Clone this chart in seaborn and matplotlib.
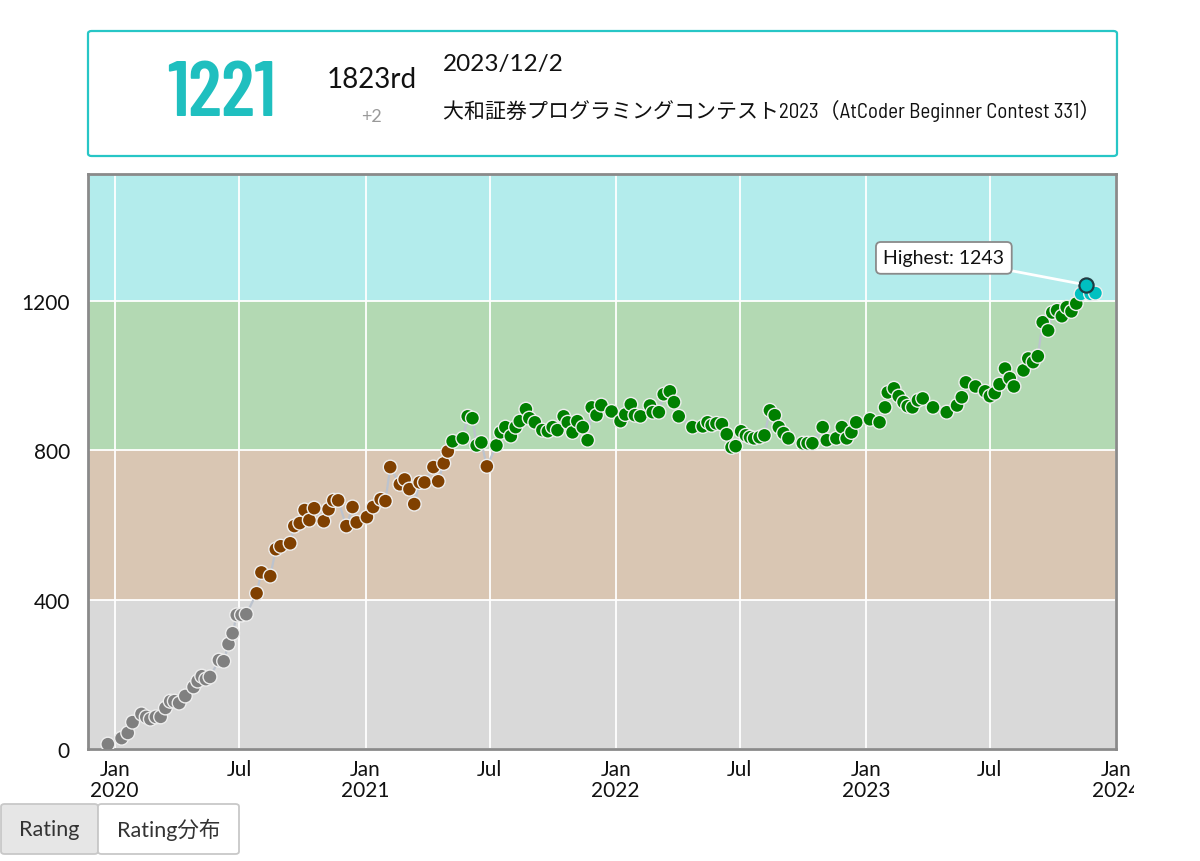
import numpy as np
import pandas as pd
import matplotlib
matplotlib.use('Agg')
import matplotlib.pyplot as plt
import matplotlib.dates as mdates
import seaborn as sns
from matplotlib.patches import FancyBboxPatch
from matplotlib.transforms import Bbox

# ---------------- data ----------------
dates = [
    '2019-12-22', '2020-01-11', '2020-01-20', '2020-01-27', '2020-02-09', '2020-02-16',
    '2020-02-22', '2020-03-01', '2020-03-08', '2020-03-15', '2020-03-22', '2020-03-28',
    '2020-04-04', '2020-04-13', '2020-04-25', '2020-05-01', '2020-05-07', '2020-05-13',
    '2020-05-19', '2020-06-01', '2020-06-08', '2020-06-15', '2020-06-21', '2020-06-27',
    '2020-07-04', '2020-07-11',
    '2020-07-26', '2020-08-02', '2020-08-15', '2020-08-23', '2020-08-30', '2020-09-13',
    '2020-09-19', '2020-09-27', '2020-10-04', '2020-10-11', '2020-10-18', '2020-11-01',
    '2020-11-08', '2020-11-15', '2020-11-22', '2020-12-04', '2020-12-13', '2020-12-19',
    '2021-01-03', '2021-01-12', '2021-01-23', '2021-01-30', '2021-02-06', '2021-02-20',
    '2021-02-27', '2021-03-06', '2021-03-13', '2021-03-21', '2021-03-28', '2021-04-10',
    '2021-04-17', '2021-04-25', '2021-05-01',
    '2021-05-08', '2021-05-23', '2021-05-30', '2021-06-06', '2021-06-12', '2021-06-19',
    '2021-06-27', '2021-07-11', '2021-07-17', '2021-07-24', '2021-08-01', '2021-08-08',
    '2021-08-14', '2021-08-23', '2021-08-28', '2021-09-05', '2021-09-16', '2021-09-24',
    '2021-10-01', '2021-10-08', '2021-10-17', '2021-10-23', '2021-10-30', '2021-11-06',
    '2021-11-14', '2021-11-21', '2021-11-27', '2021-12-04', '2021-12-11', '2021-12-26',
    '2022-01-08', '2022-01-15', '2022-01-23', '2022-01-29', '2022-02-06', '2022-02-20',
    '2022-02-24', '2022-03-05', '2022-03-12', '2022-03-21', '2022-03-27', '2022-04-03',
    '2022-04-23', '2022-05-08', '2022-05-15', '2022-05-21', '2022-05-28', '2022-06-05',
    '2022-06-12', '2022-06-19', '2022-06-25', '2022-07-03', '2022-07-10', '2022-07-16',
    '2022-07-22', '2022-07-30', '2022-08-06', '2022-08-14', '2022-08-21', '2022-08-27',
    '2022-09-03', '2022-09-10', '2022-10-01', '2022-10-08', '2022-10-15', '2022-10-30',
    '2022-11-05', '2022-11-19', '2022-11-27', '2022-12-04', '2022-12-11', '2022-12-18',
    '2023-01-07', '2023-01-21', '2023-01-29', '2023-02-02', '2023-02-11', '2023-02-18',
    '2023-02-25', '2023-03-03', '2023-03-10', '2023-03-18', '2023-03-25', '2023-04-09',
    '2023-04-29', '2023-05-14', '2023-05-21', '2023-05-27', '2023-06-10', '2023-06-24',
    '2023-07-01', '2023-07-08', '2023-07-15', '2023-07-23', '2023-07-30', '2023-08-05',
    '2023-08-19', '2023-08-26', '2023-09-02', '2023-09-09', '2023-09-16', '2023-09-24',
    '2023-09-30', '2023-10-07', '2023-10-14', '2023-10-21', '2023-10-28', '2023-11-04',
    '2023-11-11', '2023-11-18', '2023-11-25', '2023-12-02',
]
ratings = [
    13, 29, 43, 72, 94, 86,
    80, 86, 86, 110, 128, 128,
    123, 142, 166, 182, 195, 187,
    193, 238, 235, 281, 310, 359,
    359, 361,
    417, 473, 463, 535, 543, 551,
    597, 605, 640, 613, 645, 610,
    642, 666, 666, 597, 648, 607,
    621, 648, 669, 664, 755, 709,
    722, 696, 656, 714, 714, 755,
    717, 765, 797,
    824, 832, 891, 886, 813, 821,
    757, 813, 848, 862, 838, 862,
    878, 910, 886, 875, 854, 851,
    862, 854, 891, 875, 848, 878,
    862, 827, 915, 894, 921, 904,
    878, 896, 923, 894, 891, 920,
    902, 902, 950, 958, 929, 891,
    862, 864, 875, 867, 872, 870,
    843, 808, 811, 851, 840, 835,
    832, 835, 840, 907, 894, 862,
    846, 832, 819, 819, 819, 862,
    827, 832, 862, 832, 848, 875,
    883, 875, 915, 955, 966, 945,
    929, 918, 915, 934, 939, 915,
    902, 920, 942, 982, 971, 958,
    945, 953, 977, 1019, 993, 971,
    1014, 1046, 1036, 1052, 1143, 1121,
    1169, 1175, 1159, 1183, 1172, 1193,
    1219, 1243, 1219, 1221,
]

band_edges = [0, 400, 800, 1200, 1540]
band_colors = ['#d9d9d9', '#d9c6b3', '#b3d9b3', '#b3ecec']
rank_names = ['gray', 'brown', 'green', 'cyan']
rank_colors = ['#808080', '#804000', '#008000', '#00c0c0']

y_ticks = [0, 400, 800, 1200]
x_start, x_end = '2019-11-23', '2024-01-01'

header_rating = '1221'
header_place = '1823rd'
header_diff = '+2'
header_date = '2023/12/2'
header_contest = '大和証券プログラミングコンテスト2023（AtCoder Beginner Contest 331）'
button_labels = ['Rating', 'Rating分布']

# ---------------- style ----------------
sns.set_style('white')
plt.rcParams['font.family'] = ['Lato', 'Noto Sans CJK JP', 'DejaVu Sans']

W, H = 1200, 862
fig = plt.figure(figsize=(W / 100, H / 100), dpi=100)


def fx(x):
    return x / W


def fy(y):
    return 1 - y / H


ax = fig.add_axes([fx(88), fy(750), (1116 - 88) / W, (750 - 175) / H])

df = pd.DataFrame({'date': pd.to_datetime(dates), 'rating': ratings})
df['rank'] = pd.cut(df['rating'], bins=band_edges, labels=rank_names, right=False).astype(str)

for lo, hi, c in zip(band_edges[:-1], band_edges[1:], band_colors):
    ax.axhspan(lo, hi, color=c, lw=0, zorder=0.1)

ax.set_axisbelow(True)
ax.grid(True, color='white', lw=1.3)

sns.lineplot(data=df, x='date', y='rating', color='#bcc3ce', lw=1.6, ax=ax, zorder=2)
sns.scatterplot(data=df, x='date', y='rating', hue='rank',
                palette=dict(zip(rank_names, rank_colors)), s=100,
                edgecolor='#eeeeee', linewidth=1.0, legend=False, ax=ax, zorder=3)

best_idx = df['rating'].idxmax()
best = df.loc[[best_idx]]
sns.scatterplot(data=best, x='date', y='rating', color=rank_colors[3], s=105,
                edgecolor='#1d3d44', linewidth=1.6, legend=False, ax=ax, zorder=4)

ax.annotate(f"Highest: {int(best['rating'].iloc[0])}",
            xy=(best['date'].iloc[0], best['rating'].iloc[0]),
            xytext=(-142, 27), textcoords='offset pixels',
            ha='center', va='center', fontsize=14, color='#111',
            bbox=dict(boxstyle='round,pad=0.38,rounding_size=0.25', fc='white', ec='#8a8a8a', lw=1.3),
            arrowprops=dict(arrowstyle='-', color='white', lw=2, shrinkA=0, shrinkB=6),
            zorder=5)

ax.set_xlim(pd.Timestamp(x_start), pd.Timestamp(x_end))
ax.set_ylim(band_edges[0], band_edges[-1])

xt = pd.date_range('2020-01-01', x_end, freq='6MS')
ax.set_xticks(xt)
ax.set_xticklabels([f'Jan\n{d.year}' if d.month == 1 else 'Jul' for d in xt], linespacing=1.1)
ax.set_yticks(y_ticks)
ax.set_yticklabels([str(v) for v in y_ticks])
ax.tick_params(axis='both', length=0, labelsize=15, colors='#111')
ax.tick_params(axis='y', pad=13)
ax.tick_params(axis='x', pad=7)
ax.set_xlabel('')
ax.set_ylabel('')
for s in ax.spines.values():
    s.set_color('#8a8a8a')
    s.set_linewidth(2)

last_lbl = ax.get_xticklabels()[-1]
last_lbl.set_clip_on(True)
last_lbl.set_clip_box(Bbox.from_extents(0, 0, 1134, H))

# ---------------- header card ----------------
card = FancyBboxPatch((fx(88), fy(157)), (1117 - 88) / W, (157 - 32) / H,
                      boxstyle='round,pad=0,rounding_size=0.003', transform=fig.transFigure,
                      ec='#27c6c6', fc='white', lw=1.6)
fig.patches.append(card)

fig.text(fx(221), fy(96), header_rating, ha='center', va='center', fontsize=56,
         fontweight=600, color='#1fbfbf',
         family=['Barlow Condensed', 'Lato', 'DejaVu Sans'])
fig.text(fx(372), fy(80), header_place, ha='center', va='center', fontsize=20, color='#111')
fig.text(fx(372), fy(117), header_diff, ha='center', va='center', fontsize=13, color='#999')
fig.text(fx(443), fy(64), header_date, ha='left', va='center', fontsize=17.5, color='#111')
fig.text(fx(443), fy(111), header_contest, ha='left', va='center', fontsize=15.1, color='#111',
         family=['Barlow Semi Condensed', 'Noto Sans CJK JP', 'DejaVu Sans'])

# ---------------- buttons ----------------
btn_specs = [(1, 98, '#e6e6e6'), (98, 239, 'white')]
for (x0, x1, fc), lab in zip(btn_specs, button_labels):
    b = FancyBboxPatch((fx(x0), fy(855)), (x1 - x0) / W, (855 - 805) / H,
                       boxstyle='round,pad=0,rounding_size=0.003', transform=fig.transFigure,
                       ec='#c8c8c8', fc=fc, lw=1.3)
    fig.patches.append(b)
    fig.text(fx((x0 + x1) / 2), fy(830), lab, ha='center', va='center', fontsize=15.5,
             color='#333', family=['Lato', 'Noto Sans CJK JP', 'DejaVu Sans'])

fig.savefig('out.png', dpi=100)
